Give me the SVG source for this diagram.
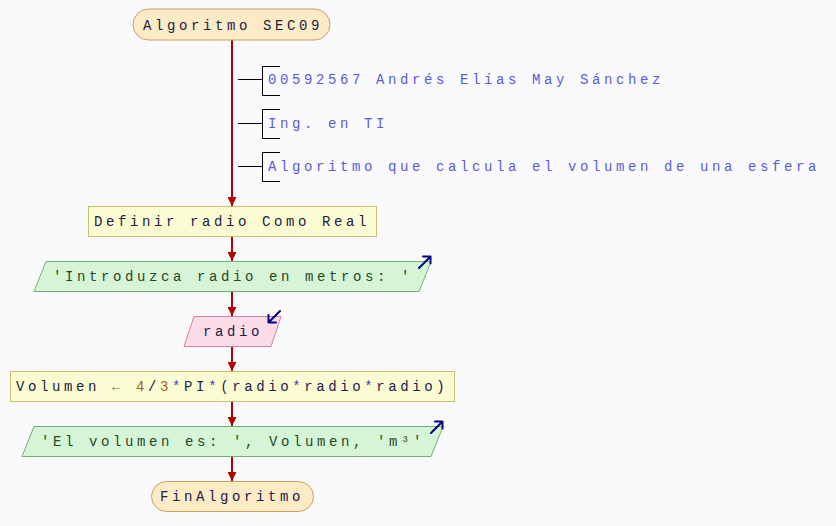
<svg xmlns="http://www.w3.org/2000/svg" width="836" height="526" viewBox="0 0 836 526">
<defs>
<style>
text{font-family:"Liberation Mono","DejaVu Sans Mono",monospace;font-size:14px;letter-spacing:3.6px}
.term{fill:#fdebc6;stroke:#c8a060;stroke-width:1}
.proc{fill:#fcfcd2;stroke:#c8c070;stroke-width:1}
.out{fill:#d6f5d6;stroke:#70b070;stroke-width:1}
.in{fill:#fcdce8;stroke:#d080a0;stroke-width:1}
.dark{fill:#202048}
.gtxt{fill:#1e4a1e}
.cmt{fill:#5a5ad6}
.flow{stroke:#b00000;stroke-width:2;fill:none}
.br{stroke:#000;stroke-width:1;fill:none}
.ico{stroke:#000080;stroke-width:2;fill:none;stroke-linecap:round;stroke-linejoin:round}
.num{fill:#a0602a}
.op{fill:#4040a0}
</style>
<marker id="ah" viewBox="0 0 10 10" refX="10" refY="5" markerWidth="4.5" markerHeight="4.5" orient="auto" markerUnits="strokeWidth">
<path d="M0,0 L10,5 L0,10 z" fill="#b00000"/>
</marker>
</defs>
<rect width="836" height="526" fill="#fafafc"/>
<g id="connectors">
<line class="flow" x1="232" y1="40" x2="232" y2="206" marker-end="url(#ah)"/>
<line class="flow" x1="232" y1="236" x2="232" y2="261" marker-end="url(#ah)"/>
<line class="flow" x1="232" y1="291" x2="232" y2="316" marker-end="url(#ah)"/>
<line class="flow" x1="232" y1="346" x2="232" y2="371" marker-end="url(#ah)"/>
<line class="flow" x1="232" y1="401" x2="232" y2="426" marker-end="url(#ah)"/>
<line class="flow" x1="232" y1="456" x2="232" y2="481" marker-end="url(#ah)"/>
</g>
<g id="start">
<rect class="term" x="133" y="9" width="197" height="31" rx="15.5"/>
<text class="dark" x="143" y="30">Algoritmo SEC09</text>
</g>
<g id="comment1">
<path class="br" d="M238,79.5 H262.5 M280,66.5 H262.5 V95.5 H280"/>
<text class="cmt" x="268" y="84">00592567 Andrés Elías May Sánchez</text>
</g>
<g id="comment2">
<path class="br" d="M238,123.5 H262.5 M280,109.5 H262.5 V138.5 H280"/>
<text class="cmt" x="268" y="128">Ing. en TI</text>
</g>
<g id="comment3">
<path class="br" d="M238,166.5 H262.5 M280,152.5 H262.5 V181.5 H280"/>
<text class="cmt" x="268" y="171">Algoritmo que calcula el volumen de una esfera</text>
</g>
<g id="define">
<rect class="proc" x="88.5" y="206.5" width="288" height="30"/>
<text class="dark" x="94" y="226">Definir radio Como Real</text>
</g>
<g id="output1">
<polygon class="out" points="46,261.5 431,261.5 419,291.5 34,291.5"/>
<text class="gtxt" x="53" y="281">'Introduzca radio en metros: '</text>
<path class="ico" d="M419,268 L430,257 M423,256.5 H430.5 V263.5"/>
</g>
<g id="input">
<polygon class="in" points="194,316.5 281,316.5 271,346.5 184,346.5"/>
<text class="dark" x="203" y="336">radio</text>
<path class="ico" d="M280,311 L269,322 M268.5,315 V322.5 H276"/>
</g>
<g id="assign">
<rect class="proc" x="10.5" y="371.5" width="444" height="30"/>
<text class="dark" x="16" y="391">Volumen <tspan fill="#707080">←</tspan> <tspan class="num">4</tspan>/<tspan class="num">3</tspan><tspan class="op">*</tspan>PI<tspan class="op">*</tspan>(radio<tspan class="op">*</tspan>radio<tspan class="op">*</tspan>radio)</text>
</g>
<g id="output2">
<polygon class="out" points="34,426.5 443,426.5 431,456.5 22,456.5"/>
<text class="gtxt" x="41" y="446">'El volumen es: ', Volumen, 'm³'</text>
<path class="ico" d="M431,433 L442,422 M435,421.5 H442.5 V428.5"/>
</g>
<g id="end">
<rect class="term" x="151.5" y="481.5" width="162" height="30" rx="15"/>
<text class="dark" x="160" y="501">FinAlgoritmo</text>
</g>
</svg>
